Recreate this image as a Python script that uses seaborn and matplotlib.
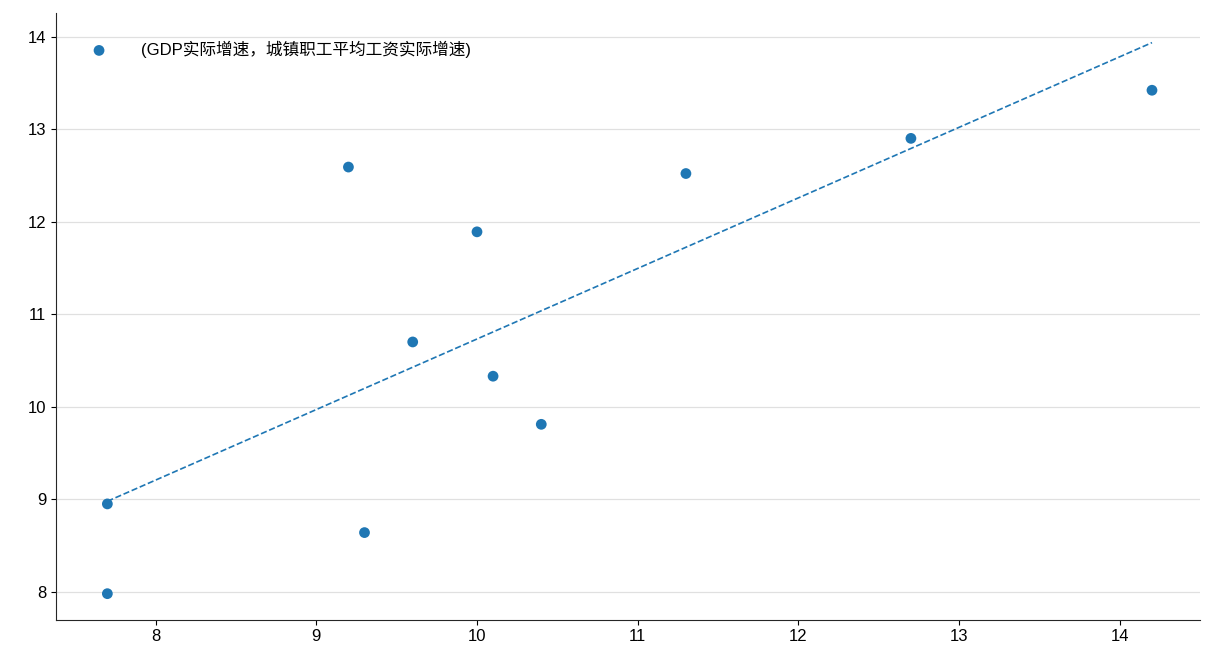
import numpy as np
import matplotlib
matplotlib.use("Agg")
import matplotlib.pyplot as plt
import seaborn as sns

# GDP real growth vs. urban average wage real growth
gdp_growth = [7.7, 7.7, 9.2, 9.3, 9.6, 10.0, 10.1, 10.4, 11.3, 12.7, 14.2]
wage_growth = [7.98, 8.95, 12.59, 8.64, 10.7, 11.89, 10.33, 9.81, 12.52, 12.9, 13.42]
label = "(GDP实际增速，城镇职工平均工资实际增速)"

sns.set_style("ticks")
plt.rcParams['font.family'] = ['Liberation Sans', 'Noto Sans CJK SC', 'DejaVu Sans']
plt.rcParams['text.color'] = 'black'
plt.rcParams['xtick.color'] = 'black'
plt.rcParams['ytick.color'] = 'black'

fig, ax = plt.subplots(figsize=(12.16, 6.72), dpi=100)
ax.grid(axis="y", color="#e0e0e0", linewidth=0.9)
ax.set_axisbelow(True)

sns.scatterplot(x=gdp_growth, y=wage_growth, ax=ax, s=60, color="#1f77b4",
                edgecolor="none", label=label, zorder=3)

# least squares fit line
k, b = np.polyfit(gdp_growth, wage_growth, 1)
xs = np.array([min(gdp_growth), max(gdp_growth)])
ax.plot(xs, k * xs + b, "--", color="#1f77b4", linewidth=1.2)

ax.set_xlim(7.38, 14.5)
ax.set_ylim(7.7, 14.25)
sns.despine(ax=ax)
ax.tick_params(labelsize=12, colors="black")
ax.legend(loc="upper left", frameon=False, fontsize=12, handletextpad=1.5,
          bbox_to_anchor=(0.01, 0.98), labelcolor="black")

fig.subplots_adjust(left=0.046, right=0.987, top=0.98, bottom=0.078)
fig.savefig("out.png", dpi=100)
